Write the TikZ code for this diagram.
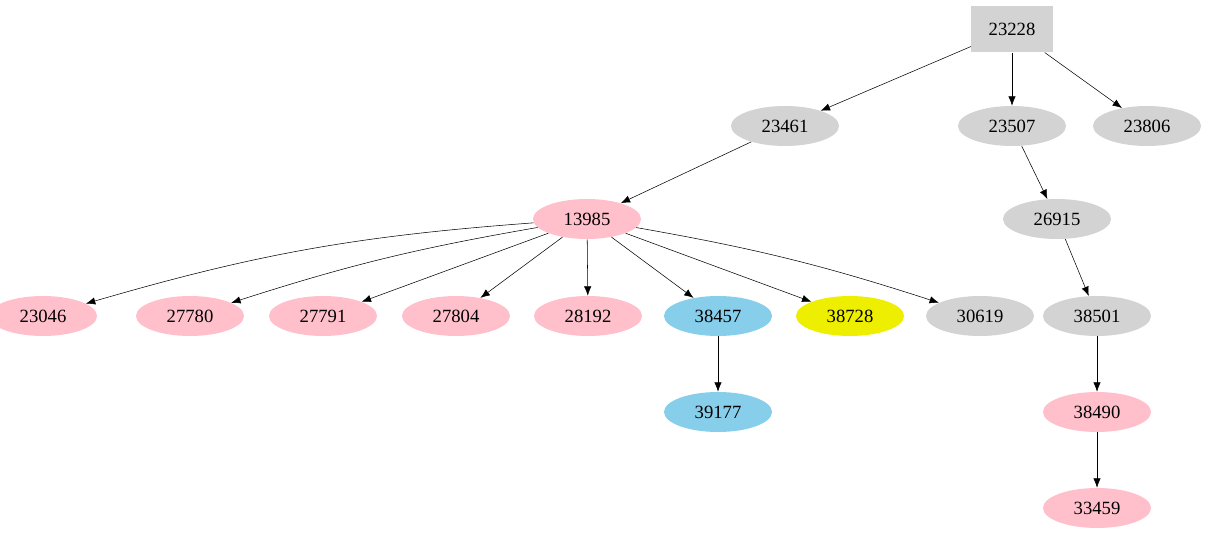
\documentclass[tikz,border=0pt]{standalone}
\usepackage{fontspec}
\setmainfont{Liberation Serif}
\usetikzlibrary{arrows.meta,shapes.geometric}

\definecolor{pinkfill}{RGB}{255,192,203}
\definecolor{bluefill}{RGB}{135,206,235}
\definecolor{yellowfill}{RGB}{238,238,0}
\definecolor{grayfill}{RGB}{211,211,211}

\tikzset{
  oval/.style={ellipse, inner sep=0pt, minimum width=81pt, minimum height=30pt, font=\fontsize{14}{16}\selectfont},
  pinknode/.style={oval, fill=pinkfill},
  bluenode/.style={oval, fill=bluefill},
  yellownode/.style={oval, fill=yellowfill},
  graynode/.style={oval, fill=grayfill},
  edge/.style={-{Latex[length=7pt,width=5.5pt]}, thin}
}

\begin{document}
\begin{tikzpicture}[x=0.75pt, y=-0.75pt]
\useasboundingbox (0,0) rectangle (1206,539);

\node at (1012, 29) [rectangle, fill=grayfill, minimum width=61pt, minimum height=35pt, font=\fontsize{14}{16}\selectfont] (n23228) {23228};
\node at (785, 126) [graynode] (n23461) {23461};
\node at (1012, 126) [graynode] (n23507) {23507};
\node at (1147, 126) [graynode] (n23806) {23806};
\node at (587, 219) [pinknode] (n13985) {13985};
\node at (1057, 219) [graynode] (n26915) {26915};

\node at (43, 316) [pinknode] (n23046) {23046};
\node at (190, 316) [pinknode] (n27780) {27780};
\node at (323, 316) [pinknode] (n27791) {27791};
\node at (456, 316) [pinknode] (n27804) {27804};
\node at (588, 316) [pinknode] (n28192) {28192};
\node at (718, 316) [bluenode] (n38457) {38457};
\node at (850, 316) [yellownode] (n38728) {38728};
\node at (980, 316) [graynode] (n30619) {30619};
\node at (1097, 316) [graynode] (n38501) {38501};

\node at (718, 412) [bluenode] (n39177) {39177};
\node at (1097, 412) [pinknode] (n38490) {38490};
\node at (1097, 508) [pinknode] (n33459) {33459};

\draw[edge] (n23228) -- (n23461);
\draw[edge] (n23228) -- (n23507);
\draw[edge] (n23228) -- (n23806);
\draw[edge] (n23461) -- (n13985);
\draw[edge] (n23507) -- (n26915);
\draw[edge] (n26915) -- (n38501);
\draw[edge] (n13985) to[bend right=6] (n23046);
\draw[edge] (n13985) to[bend right=4] (n27780);
\draw[edge] (n13985) -- (n27791);
\draw[edge] (n13985) -- (n27804);
\draw[edge] (n13985) -- (n28192);
\draw[edge] (n13985) -- (n38457);
\draw[edge] (n13985) -- (n38728);
\draw[edge] (n13985) to[bend left=4] (n30619);
\draw[edge] (n38457) -- (n39177);
\draw[edge] (n38501) -- (n38490);
\draw[edge] (n38490) -- (n33459);
\end{tikzpicture}
\end{document}
